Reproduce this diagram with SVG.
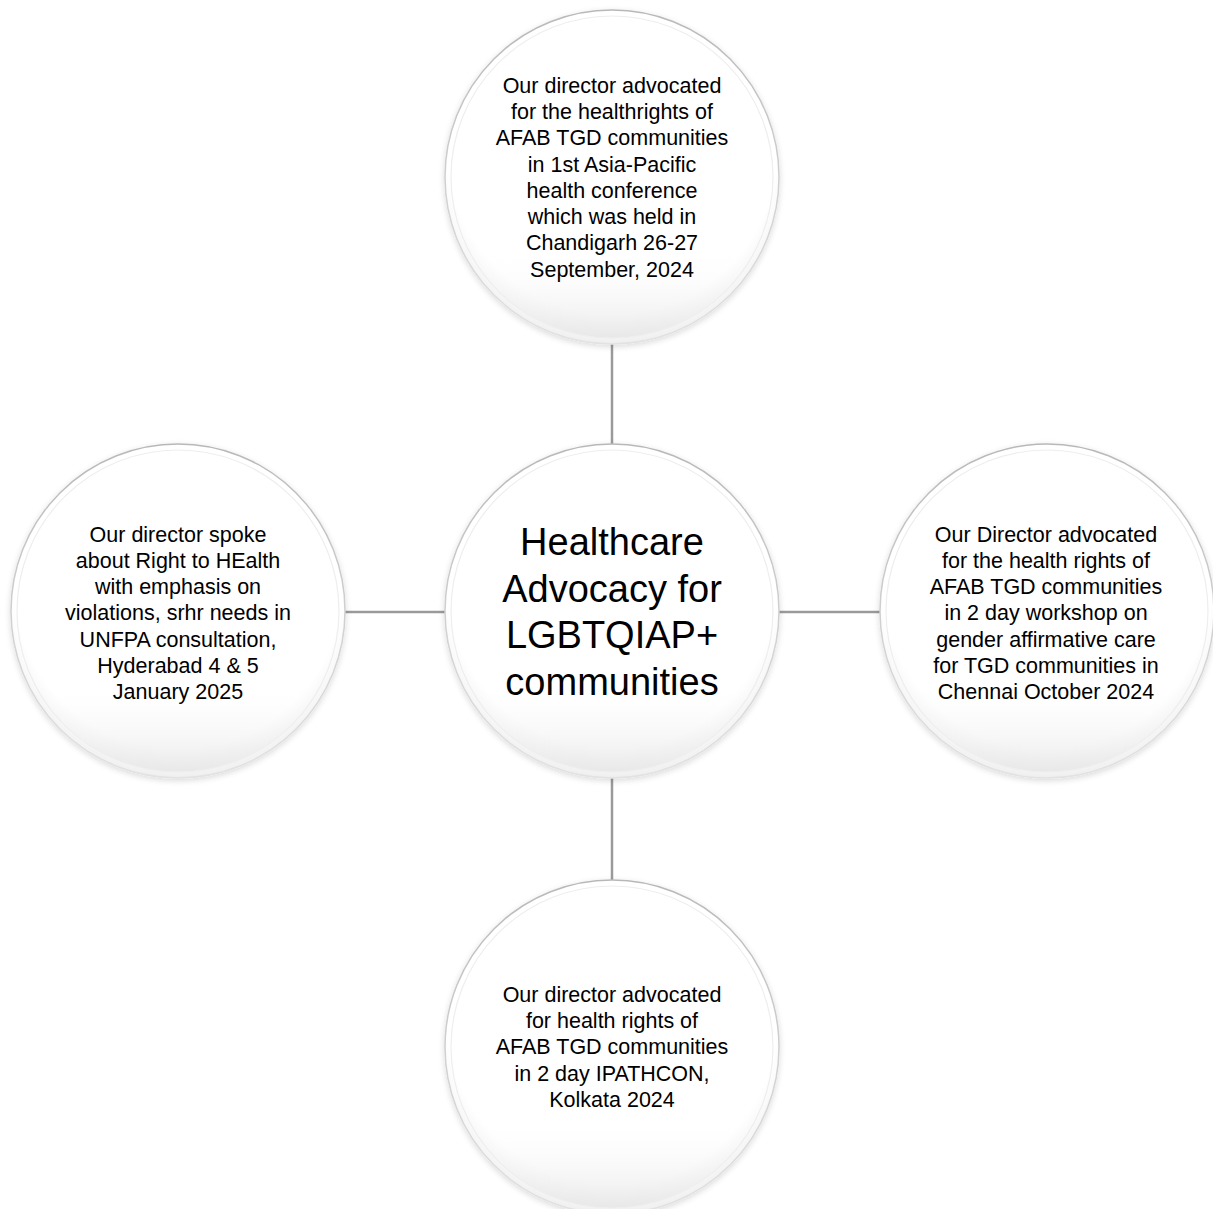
<svg xmlns="http://www.w3.org/2000/svg" width="1213" height="1209" viewBox="0 0 1213 1209">
  <defs>
    <radialGradient id="fillG" cx="0.5" cy="0.42" r="0.6">
      <stop offset="0" stop-color="#ffffff"/>
      <stop offset="0.82" stop-color="#ffffff"/>
      <stop offset="0.95" stop-color="#f1f1f1"/>
      <stop offset="1" stop-color="#e4e4e4"/>
    </radialGradient>
    <linearGradient id="rimG" x1="0" y1="0" x2="0" y2="1">
      <stop offset="0" stop-color="#b8b8b8"/>
      <stop offset="0.5" stop-color="#cfcfcf"/>
      <stop offset="1" stop-color="#e2e2e2"/>
    </linearGradient>
    <linearGradient id="innerG" x1="0" y1="0" x2="0" y2="1">
      <stop offset="0" stop-color="#ffffff" stop-opacity="0"/>
      <stop offset="0.72" stop-color="#ffffff" stop-opacity="0"/>
      <stop offset="1" stop-color="#e6e6e6" stop-opacity="0.85"/>
    </linearGradient>
    <filter id="sh" x="-20%" y="-20%" width="140%" height="140%">
      <feGaussianBlur in="SourceAlpha" stdDeviation="3"/>
      <feOffset dx="0" dy="2" result="b"/>
      <feComponentTransfer><feFuncA type="linear" slope="0.15"/></feComponentTransfer>
      <feMerge><feMergeNode/><feMergeNode in="SourceGraphic"/></feMerge>
    </filter>
  </defs>
  <style>
    .outer { fill: url(#fillG); stroke: url(#rimG); stroke-width: 1.5; filter: url(#sh); }
    .inner { fill: url(#innerG); stroke: #eeeeee; stroke-width: 1.2; }
    .conn { stroke: #9a9a9a; stroke-width: 2.5; fill: none; }
    .t { font-family: "Liberation Sans", Arial, sans-serif; font-size: 21.5px; fill: #000; text-anchor: middle; }
    .tc { font-family: "Liberation Sans", Arial, sans-serif; font-size: 38px; fill: #000; text-anchor: middle; }
  </style>
  <rect width="1213" height="1209" fill="#ffffff"/>

  <g id="connectors">
    <line class="conn" x1="612" y1="344" x2="612" y2="446"/>
    <line class="conn" x1="345" y1="612" x2="446" y2="612"/>
    <line class="conn" x1="779" y1="612" x2="880" y2="612"/>
    <line class="conn" x1="612" y1="778" x2="612" y2="880"/>
  </g>

  <g id="node-center">
    <circle class="outer" cx="612" cy="611" r="167"/>
    <circle class="inner" cx="612" cy="611" r="161"/>
    <text class="tc" x="612" y="555">Healthcare</text>
    <text class="tc" x="612" y="602">Advocacy for</text>
    <text class="tc" x="612" y="648">LGBTQIAP+</text>
    <text class="tc" x="612" y="695">communities</text>
  </g>

  <g id="node-top">
    <circle class="outer" cx="612" cy="177" r="167"/>
    <circle class="inner" cx="612" cy="177" r="161"/>
    <text class="t" x="612" y="93">Our director advocated</text>
    <text class="t" x="612" y="119">for the healthrights of</text>
    <text class="t" x="612" y="145">AFAB TGD communities</text>
    <text class="t" x="612" y="172">in 1st Asia-Pacific</text>
    <text class="t" x="612" y="198">health conference</text>
    <text class="t" x="612" y="224">which was held in</text>
    <text class="t" x="612" y="250">Chandigarh 26-27</text>
    <text class="t" x="612" y="277">September, 2024</text>
  </g>

  <g id="node-right">
    <circle class="outer" cx="1047" cy="611" r="167"/>
    <circle class="inner" cx="1047" cy="611" r="161"/>
    <text class="t" x="1046" y="542">Our Director advocated</text>
    <text class="t" x="1046" y="568">for the health rights of</text>
    <text class="t" x="1046" y="594">AFAB TGD communities</text>
    <text class="t" x="1046" y="620">in 2 day workshop on</text>
    <text class="t" x="1046" y="647">gender affirmative care</text>
    <text class="t" x="1046" y="673">for TGD communities in</text>
    <text class="t" x="1046" y="699">Chennai October 2024</text>
  </g>

  <g id="node-left">
    <circle class="outer" cx="178" cy="611" r="167"/>
    <circle class="inner" cx="178" cy="611" r="161"/>
    <text class="t" x="178" y="542">Our director spoke</text>
    <text class="t" x="178" y="568">about Right to HEalth</text>
    <text class="t" x="178" y="594">with emphasis on</text>
    <text class="t" x="178" y="620">violations, srhr needs in</text>
    <text class="t" x="178" y="647">UNFPA consultation,</text>
    <text class="t" x="178" y="673">Hyderabad 4 &amp; 5</text>
    <text class="t" x="178" y="699">January 2025</text>
  </g>

  <g id="node-bottom">
    <circle class="outer" cx="612" cy="1047" r="167"/>
    <circle class="inner" cx="612" cy="1047" r="161"/>
    <text class="t" x="612" y="1002">Our director advocated</text>
    <text class="t" x="612" y="1028">for health rights of</text>
    <text class="t" x="612" y="1054">AFAB TGD communities</text>
    <text class="t" x="612" y="1081">in 2 day IPATHCON,</text>
    <text class="t" x="612" y="1107">Kolkata 2024</text>
  </g>
</svg>
